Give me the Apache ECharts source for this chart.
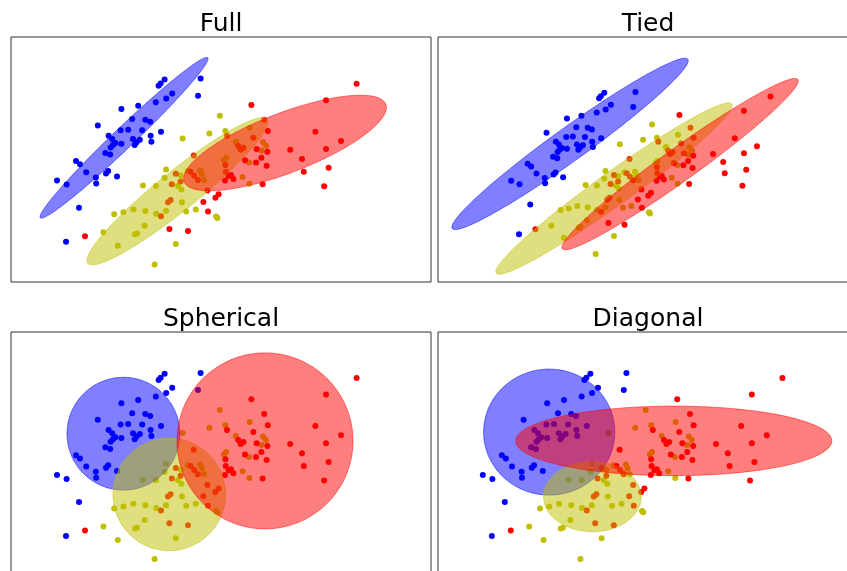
<!DOCTYPE html>
<html>
<head>
<meta charset="utf-8">
<script src="https://cdn.jsdelivr.net/npm/echarts@6/dist/echarts.min.js"></script>
<style>
  html, body { margin: 0; padding: 0; background: #fff; overflow: hidden; }
  #chart { width: 880px; height: 600px; }
</style>
</head>
<body>
<div id="chart"></div>
<script>
// Gaussian mixture covariance types: the same samples in four panels,
// each with the fitted component ellipses for one covariance type.

const panelTitles = ['Full', 'Tied', 'Spherical', 'Diagonal'];
const classColors = [[0, 0, 255], [191, 191, 0], [255, 0, 0]];

const bluePoints = [
  [4.74, 5.11], [4.675, 4.68], [3.84, 5.09], [3.74, 4.99], [3.69, 4.93], [4.03, 4.74],
  [3.88, 4.61], [3.62, 4.52], [3.18, 4.43], [2.76, 4.35], [3.03, 4.10], [3.36, 4.08],
  [3.48, 4.03], [2.17, 3.94], [2.74, 3.82], [2.93, 3.83], [3.28, 3.82], [3.75, 3.78],
  [3.49, 3.68], [2.44, 3.68], [2.53, 3.60], [3.05, 3.60], [3.22, 3.58], [2.61, 3.50],
  [2.76, 3.48], [3.14, 3.52], [3.09, 3.45], [3.51, 3.53], [2.55, 3.45], [2.49, 3.39],
  [2.36, 3.25], [2.48, 3.21], [1.625, 3.05], [1.725, 2.97], [1.15, 2.56], [1.39, 2.46],
  [1.88, 2.77], [2.12, 2.64], [2.13, 2.49], [2.375, 2.74], [2.43, 2.80], [2.65, 2.66],
  [1.70, 1.88], [1.375, 1.03]
];

const yellowPoints = [
  [5.22, 4.18], [4.96, 3.74], [4.29, 3.61], [5.36, 3.80], [5.97, 3.88], [6.30, 3.52],
  [6.375, 3.43], [5.62, 3.53], [6.26, 3.31], [5.38, 3.13], [5.325, 3.07], [5.95, 3.01],
  [5.79, 2.65], [5.96, 2.48], [3.875, 2.84], [3.84, 2.63], [4.24, 2.69], [4.175, 2.425],
  [4.26, 2.34], [3.625, 2.425], [4.42, 2.80], [4.725, 2.82], [4.77, 2.725], [4.825, 2.575],
  [4.275, 2.02], [3.875, 1.80], [3.63, 1.73], [4.38, 1.79], [4.62, 1.84], [5.13, 1.66],
  [5.16, 1.625], [4.12, 0.975], [2.31, 1.27], [2.67, 0.93], [2.58, 1.72], [2.81, 1.77],
  [3.06, 1.84], [3.10, 1.22], [3.15, 1.24], [3.34, 1.43], [3.36, 1.80], [3.30, 2.44],
  [3.59, 0.46]
];

const redPoints = [
  [6.01, 4.45], [6.33, 4.08], [5.40, 3.68], [6.06, 3.63], [6.42, 3.80], [5.68, 3.43],
  [5.74, 3.33], [5.81, 3.38], [6.14, 3.35], [6.41, 3.28], [6.98, 3.33], [4.57, 3.19],
  [5.85, 3.07], [6.125, 3.01], [6.26, 3.13], [6.39, 2.93], [5.36, 2.95], [5.37, 2.78],
  [5.44, 2.675], [5.50, 2.70], [5.56, 2.60], [5.35, 2.56], [6.29, 2.47], [4.49, 2.78],
  [4.58, 2.68], [4.67, 2.575], [4.12, 2.73], [4.24, 2.54], [4.02, 2.47], [3.925, 2.02],
  [3.99, 2.075], [3.75, 1.67], [4.91, 2.31], [5.19, 2.22], [5.11, 2.13], [4.81, 2.025],
  [4.925, 1.79], [3.96, 1.35], [4.425, 1.30], [8.64, 4.98], [7.875, 4.57], [7.61, 3.78],
  [8.25, 3.55], [7.875, 3.35], [7.275, 3.10], [7.32, 2.78], [7.94, 2.88], [7.83, 2.42],
  [1.85, 1.17]
];

// Ellipses: [centerX, centerY, semiAxisA, semiAxisB, angleDeg, classIndex]
const fullEllipses = [
  [2.825, 3.63, 2.895, 0.26, 43.7, 0],
  [4.16, 2.295, 2.875, 0.49, 38.8, 1],
  [6.85, 3.50, 2.70, 0.75, 21.0, 2]
];
const tiedEllipses = [
  [2.85, 3.62, 4.18, 0.475, 35.5, 0],
  [4.12, 2.34, 4.18, 0.475, 35.5, 1],
  [6.03, 3.04, 4.18, 0.475, 35.5, 2]
];
const sphericalEllipses = [
  [2.81, 3.59, 1.41, 1.41, 0, 0],
  [3.955, 2.07, 1.405, 1.405, 0, 1],
  [6.35, 3.41, 2.20, 2.20, 0, 2]
];
const diagonalEllipses = [
  [2.81, 3.63, 1.64, 1.575, 0, 0],
  [3.89, 2.015, 1.22, 0.875, 0, 1],
  [5.925, 3.41, 3.95, 0.87, 0, 2]
];

const panels = [
  { left: 11,  top: 37,  x: [0, 10.5],       y: [0.025, 6.15],     ellipses: fullEllipses },
  { left: 438, top: 37,  x: [-0.965, 11.17], y: [-0.3425, 6.6875], ellipses: tiedEllipses },
  { left: 11,  top: 332, x: [0, 10.5],       y: [0.0075, 6.1325],  ellipses: sphericalEllipses },
  { left: 438, top: 332, x: [0.03, 10.53],   y: [0.0075, 6.1325],  ellipses: diagonalEllipses }
];
const panelW = 420, panelH = 245;

function rgba(c, a) { return 'rgba(' + c[0] + ',' + c[1] + ',' + c[2] + ',' + a + ')'; }

function renderEllipse(params, api) {
  const cx = api.value(0), cy = api.value(1);
  const a = api.value(2), b = api.value(3);
  const th = api.value(4) * Math.PI / 180;
  const col = classColors[api.value(5)];
  const pts = [];
  const n = 180;
  for (let i = 0; i < n; i++) {
    const t = i / n * Math.PI * 2;
    const dx = a * Math.cos(t), dy = b * Math.sin(t);
    pts.push(api.coord([cx + dx * Math.cos(th) - dy * Math.sin(th),
                        cy + dx * Math.sin(th) + dy * Math.cos(th)]));
  }
  return {
    type: 'polygon',
    shape: { points: pts },
    style: { fill: rgba(col, 0.5), stroke: rgba(col, 0.5), lineWidth: 1 }
  };
}

const grid = [], xAxis = [], yAxis = [], series = [], graphic = [];
const pointSets = [bluePoints, yellowPoints, redPoints];

panels.forEach((p, i) => {
  grid.push({ left: p.left, top: p.top, width: panelW, height: panelH,
              show: true, borderColor: '#333', borderWidth: 1, backgroundColor: 'transparent' });
  xAxis.push({ gridIndex: i, type: 'value', min: p.x[0], max: p.x[1], show: false });
  yAxis.push({ gridIndex: i, type: 'value', min: p.y[0], max: p.y[1], show: false });
  pointSets.forEach((pts, k) => {
    series.push({
      type: 'scatter', xAxisIndex: i, yAxisIndex: i, data: pts,
      symbol: 'circle', symbolSize: 6, z: 2, silent: true,
      itemStyle: { color: rgba(classColors[k], 1), opacity: 1 }
    });
  });
  series.push({
    type: 'custom', xAxisIndex: i, yAxisIndex: i, data: p.ellipses,
    renderItem: renderEllipse, clip: true, z: 3, silent: true
  });
  graphic.push({
    type: 'text', x: p.left + panelW / 2, y: p.top - 12.5,
    style: { text: panelTitles[i], textAlign: 'center', textVerticalAlign: 'middle',
             font: '25px "DejaVu Sans"', fill: '#000' }
  });
});

const chart = echarts.init(document.getElementById('chart'), null, { renderer: 'canvas' });
chart.setOption({ animation: false, grid, xAxis, yAxis, series, graphic });
</script>
</body>
</html>
